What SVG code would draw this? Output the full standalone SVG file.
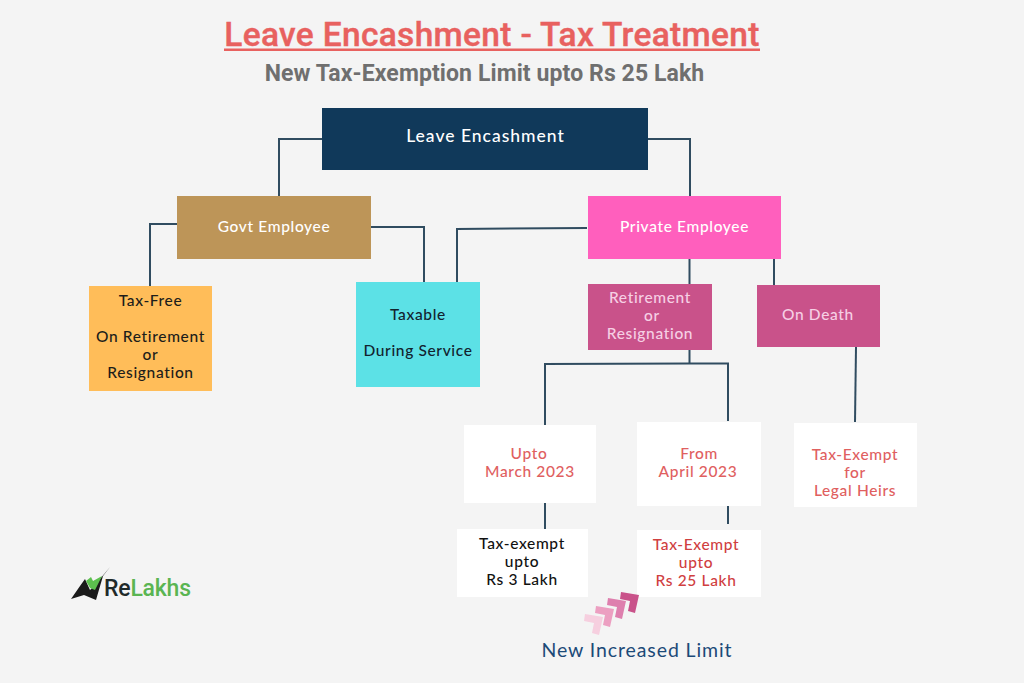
<svg xmlns="http://www.w3.org/2000/svg" width="1024" height="683" viewBox="0 0 1024 683">
<style>
.t{font-family:"Lato","Open Sans","Liberation Sans",sans-serif;font-size:15.5px;text-anchor:middle;letter-spacing:.65px;font-weight:500}
.w{fill:#fff}.p{fill:#f6cfe4}.r{fill:#e0605f}
.c{fill:none;stroke:#304c60;stroke-width:2}
</style>
<rect width="1024" height="683" fill="#f4f4f4"/>
<g id="title">
<text x="492" y="46" font-family="Roboto,'Liberation Sans',sans-serif" font-size="33.500" font-weight="500" fill="#e8615f" stroke="#e8615f" stroke-width=".4" text-anchor="middle" letter-spacing=".32">Leave Encashment - Tax Treatment</text>
<rect x="224" y="48.500" width="536" height="2.500" fill="#e8615f"/>
<text x="484.500" y="81" font-family="Roboto,'Liberation Sans',sans-serif" font-size="23" font-weight="700" fill="#6f6f6f" text-anchor="middle" letter-spacing=".1">New Tax-Exemption Limit upto Rs 25 Lakh</text>
</g>
<g id="connectors">
<path class="c" d="M322 139H279V196"/>
<path class="c" d="M648 139H690V196"/>
<path class="c" d="M177 224H150V286"/>
<path class="c" d="M371 227H424V282"/>
<path class="c" d="M587 228L457 229V284"/>
<path class="c" d="M689.500 259V284"/>
<path class="c" d="M774 259V285"/>
<path class="c" d="M689.500 350V364"/>
<path class="c" d="M545 425V364L689 363.500H728V421"/>
<path class="c" d="M856 347L855 422"/>
<path class="c" d="M545 503V529"/>
<path class="c" d="M728 506V524"/>
</g>
<g id="n-root"><rect x="322" y="108" width="326" height="62" fill="#10395a"/><text class="t w" x="485.500" y="142" style="font-size:17.500px;letter-spacing:1px">Leave Encashment</text></g>
<g id="n-govt"><rect x="177" y="196" width="194" height="63" fill="#bd9558"/><text class="t w" x="274" y="232">Govt Employee</text></g>
<g id="n-private"><rect x="588" y="196" width="193" height="63" fill="#ff5fbd"/><text class="t w" x="684.500" y="232">Private Employee</text></g>
<g id="n-taxfree"><rect x="89" y="286" width="123" height="105" fill="#ffbd59"/><g fill="#1d1d1b"><text class="t" x="150.500" y="306">Tax-Free</text><text class="t" x="150.500" y="342">On Retirement</text><text class="t" x="150.500" y="360">or</text><text class="t" x="150.500" y="378">Resignation</text></g></g>
<g id="n-taxable"><rect x="356" y="282" width="124" height="105" fill="#5ce1e6"/><g fill="#12232e"><text class="t" x="418" y="320">Taxable</text><text class="t" x="418" y="356">During Service</text></g></g>
<g id="n-retire"><rect x="588" y="284" width="124" height="66" fill="#c9528a"/><g class="p"><text class="t" x="650" y="303">Retirement</text><text class="t" x="652" y="321">or</text><text class="t" x="650" y="339">Resignation</text></g></g>
<g id="n-death"><rect x="757" y="285" width="123" height="62" fill="#c9528a"/><text class="t p" x="818" y="320">On Death</text></g>
<g id="n-upto"><rect x="464" y="425" width="132" height="78" fill="#fff"/><g class="r"><text class="t" x="529" y="459">Upto</text><text class="t" x="530" y="477">March 2023</text></g></g>
<g id="n-from"><rect x="637" y="422" width="124" height="84" fill="#fff"/><g class="r"><text class="t" x="699" y="459">From</text><text class="t" x="698" y="477">April 2023</text></g></g>
<g id="n-heirs"><rect x="794" y="423" width="123" height="84" fill="#fff"/><g class="r"><text class="t" x="855" y="460">Tax-Exempt</text><text class="t" x="855" y="478">for</text><text class="t" x="855" y="496">Legal Heirs</text></g></g>
<g id="n-3lakh"><rect x="457" y="529" width="131" height="68" fill="#fff"/><g fill="#111"><text class="t" x="522" y="549">Tax-exempt</text><text class="t" x="522" y="567">upto</text><text class="t" x="522" y="585">Rs 3 Lakh</text></g></g>
<g id="n-25lakh"><rect x="637" y="530" width="124" height="67" fill="#fff"/><g fill="#d0403f"><text class="t" x="696" y="550">Tax-Exempt</text><text class="t" x="696" y="568">upto</text><text class="t" x="696" y="586">Rs 25 Lakh</text></g></g>
<g id="logo">
<path d="M71 599L80 586L85 579L90 590L95 585L110 567L103 576L96 600L84 595Z" fill="#1a1a1a"/>
<path d="M86 581L91 577L93 581L102 576L95 590L90 588Z" fill="#5cc04e"/>
<text x="104" y="596" font-family="Roboto,'Liberation Sans',sans-serif" font-size="23" font-weight="500" fill="#1f2a2a" textLength="87">Re<tspan fill="#5ab552">Lakhs</tspan></text>
</g>
<g id="chevrons">
<path d="M585 614L603 617L599 635L592 633L594 623L584 621Z" fill="#f6cfdf"/>
<path d="M596 606L614 609L610 627L603 625L605 615L595 613Z" fill="#ec9fc1"/>
<path d="M608 598L626 601L622 619L615 617L617 607L607 605Z" fill="#de7fae"/>
<path d="M621 592L639 595L635 613L628 611L630 601L620 599Z" fill="#c9528a"/>
</g>
<text id="note" x="637" y="657" font-family="Lato,'Open Sans',sans-serif" font-size="19.500" letter-spacing=".9" fill="#1c4a78" text-anchor="middle">New Increased Limit</text>
</svg>
